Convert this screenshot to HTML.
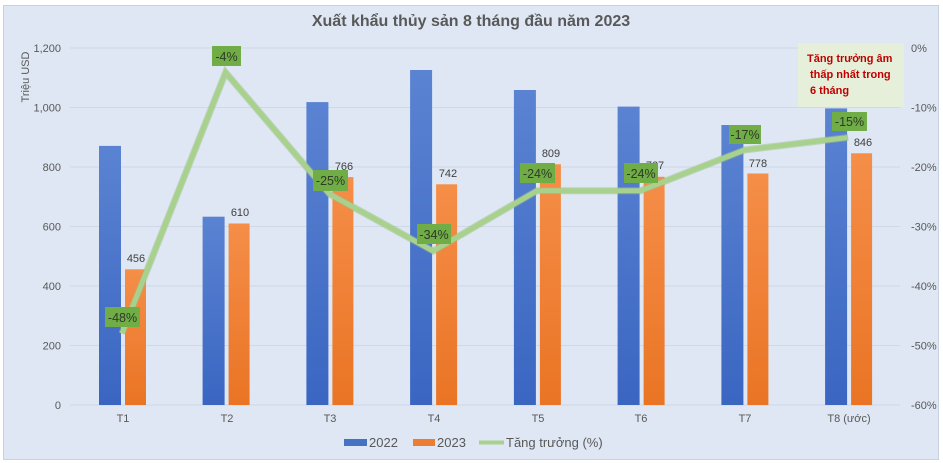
<!DOCTYPE html>
<html><head><meta charset="utf-8"><style>
html,body{margin:0;padding:0;background:#fff;}
svg{display:block;}
text{font-family:"Liberation Sans",Arial,sans-serif;}
</style></head><body>
<svg width="943" height="463" viewBox="0 0 943 463" xmlns="http://www.w3.org/2000/svg">
<defs>
<linearGradient id="gb" x1="0" y1="0" x2="0" y2="1"><stop offset="0" stop-color="#5b83d2"/><stop offset="1" stop-color="#3a66c2"/></linearGradient>
<linearGradient id="go" x1="0" y1="0" x2="0" y2="1"><stop offset="0" stop-color="#f58e48"/><stop offset="1" stop-color="#ea7424"/></linearGradient>
</defs>
<rect x="3.5" y="5.5" width="935" height="454" fill="#dee7f3" stroke="#c8d2df" stroke-width="1"/>
<text x="471" y="26" text-anchor="middle" font-size="16" font-weight="bold" fill="#595959">Xuất khẩu thủy sản 8 tháng đầu năm 2023</text>
<g stroke="#cfd8e4" stroke-width="1">
<line x1="70" y1="48" x2="900" y2="48"/><line x1="70" y1="107.5" x2="900" y2="107.5"/><line x1="70" y1="167" x2="900" y2="167"/><line x1="70" y1="226.5" x2="900" y2="226.5"/><line x1="70" y1="286" x2="900" y2="286"/><line x1="70" y1="345.5" x2="900" y2="345.5"/><line x1="70" y1="405" x2="900" y2="405"/>
</g>
<g font-size="11" fill="#595959" text-anchor="end">
<text x="61" y="52">1,200</text><text x="61" y="111.5">1,000</text><text x="61" y="171">800</text><text x="61" y="230.5">600</text><text x="61" y="290">400</text><text x="61" y="349.5">200</text><text x="61" y="409">0</text>
</g>
<g font-size="11" fill="#595959">
<text x="911" y="52">0%</text><text x="911" y="111.5">-10%</text><text x="911" y="171">-20%</text><text x="911" y="230.5">-30%</text><text x="911" y="290">-40%</text><text x="911" y="349.5">-50%</text><text x="911" y="409">-60%</text>
</g>
<text transform="translate(29,77) rotate(-90)" text-anchor="middle" font-size="11" fill="#595959">Triệu USD</text>
<g fill="url(#gb)">
<rect x="99" y="145.9" width="22" height="259.1"/>
<rect x="202.6" y="216.7" width="22" height="188.3"/>
<rect x="306.4" y="102.1" width="22" height="302.9"/>
<rect x="410.1" y="70" width="22" height="335"/>
<rect x="513.9" y="90" width="22" height="315"/>
<rect x="617.6" y="106.6" width="22" height="298.4"/>
<rect x="721.4" y="125" width="22" height="280"/>
<rect x="825.1" y="108.4" width="22" height="296.6"/>
</g>
<g fill="url(#go)">
<rect x="125" y="269.3" width="21" height="135.7"/>
<rect x="228.6" y="223.5" width="21" height="181.5"/>
<rect x="332.4" y="177.1" width="21" height="227.9"/>
<rect x="436.1" y="184.3" width="21" height="220.7"/>
<rect x="539.9" y="164.3" width="21" height="240.7"/>
<rect x="643.6" y="176.8" width="21" height="228.2"/>
<rect x="747.4" y="173.5" width="21" height="231.5"/>
<rect x="851.1" y="153.3" width="21" height="251.7"/>
</g>
<g font-size="11" fill="#404040" text-anchor="middle">
<text x="136" y="262">456</text><text x="240" y="216">610</text><text x="344" y="170">766</text><text x="448" y="177">742</text><text x="551" y="157">809</text><text x="655" y="169">767</text><text x="758" y="167">778</text><text x="863" y="146">846</text>
</g>
<polyline points="121.9,333.6 225.6,72.5 329.4,194 433.1,251 536.9,190.8 640.6,190.8 744.4,150 848.1,137.5" fill="none" stroke="#9cbf84" stroke-width="7" stroke-linejoin="miter" opacity="0.5"/>
<polyline points="121.9,333.6 225.6,72.5 329.4,194 433.1,251 536.9,190.8 640.6,190.8 744.4,150 848.1,137.5" fill="none" stroke="#a9d18e" stroke-width="5" stroke-linejoin="miter"/>
<g fill="#70ad47">
<rect x="105" y="307" width="35" height="20"/>
<rect x="212" y="46" width="29" height="20"/>
<rect x="313" y="170" width="35" height="21"/>
<rect x="417" y="224" width="34" height="20"/>
<rect x="520" y="163" width="35" height="20"/>
<rect x="624" y="163" width="34" height="20"/>
<rect x="729" y="125" width="32" height="19"/>
<rect x="832" y="112" width="35" height="19"/>
</g>
<g font-size="12.5" fill="#2e3a26" text-anchor="middle">
<text x="122.5" y="322">-48%</text><text x="226.5" y="61">-4%</text><text x="330.5" y="185">-25%</text><text x="434" y="239">-34%</text><text x="537.5" y="178">-24%</text><text x="641" y="178">-24%</text><text x="745" y="139">-17%</text><text x="849.5" y="126">-15%</text>
</g>
<rect x="798" y="43" width="106" height="64" fill="#e6efd9"/>
<g font-size="11" font-weight="bold" fill="#c00000">
<text x="807" y="62">Tăng trưởng âm</text><text x="810" y="78">thấp nhất trong</text><text x="810" y="94">6 tháng</text>
</g>
<g font-size="11" fill="#595959" text-anchor="middle">
<text x="123" y="422">T1</text><text x="227" y="422">T2</text><text x="330" y="422">T3</text><text x="434" y="422">T4</text><text x="538" y="422">T5</text><text x="641" y="422">T6</text><text x="745" y="422">T7</text><text x="849" y="422">T8 (ước)</text>
</g>
<rect x="344" y="439" width="23" height="7" fill="#4472c4"/>
<text x="369" y="447" font-size="13" fill="#595959">2022</text>
<rect x="413" y="439" width="22" height="7" fill="#ed7d31"/>
<text x="437" y="447" font-size="13" fill="#595959">2023</text>
<line x1="479" y1="442.5" x2="504" y2="442.5" stroke="#a9d18e" stroke-width="4"/>
<text x="506" y="447" font-size="13" fill="#595959">Tăng trưởng (%)</text>
</svg>
</body></html>
